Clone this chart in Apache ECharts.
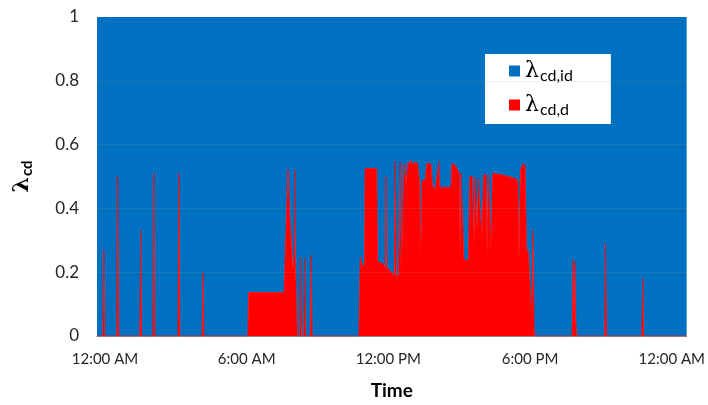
<!DOCTYPE html>
<html>
<head>
<meta charset="utf-8">
<script src="https://cdn.jsdelivr.net/npm/echarts@6/dist/echarts.min.js"></script>
<style>
  html, body { margin: 0; padding: 0; background: #fff; }
  #chart { width: 708px; height: 405px; }
</style>
</head>
<body>
<div id="chart"></div>
<script>
// time of day in hours, and λcd,d
// (λcd,id = 1 - λcd,d, so its area is the part above the red line)
var timeHours = [
  -0.338, -0.09, -0.05, -0.01, 0.50, 0.54, 0.58, 1.47, 1.51, 1.55,
  2.03, 2.07, 2.11, 3.09, 3.13, 3.17, 4.11, 4.15, 4.19,
  6.05, 6.08, 7.58, 7.75, 7.82, 7.96, 8.01, 8.03, 8.06, 8.14,
  8.24, 8.27, 8.31, 8.41, 8.45, 8.49, 8.69, 8.73, 8.77,
  10.75, 10.81, 10.89, 10.99, 11.01, 11.50, 11.55, 11.76, 11.87, 11.90, 11.93,
  12.04, 12.16, 12.25, 12.29, 12.34, 12.44, 12.50, 12.55, 12.66, 12.74, 12.83,
  12.92, 12.97, 13.06, 13.14, 13.24, 13.31, 13.37, 13.42, 13.56, 13.62,
  13.80, 13.87, 13.99, 14.13, 14.18, 14.65, 14.69, 14.83, 14.93, 15.00,
  15.04, 15.08, 15.14, 15.20, 15.39, 15.45, 15.56, 15.62, 15.68, 15.74,
  15.77, 15.80, 15.87, 15.96, 16.03, 16.13, 16.18, 16.22, 16.27, 16.34,
  16.41, 16.48, 16.83, 17.39, 17.48, 17.53, 17.59, 17.70, 17.79, 17.85,
  17.93, 17.99, 18.07, 18.13, 18.17, 18.20,
  19.78, 19.82, 19.86, 19.90, 19.93, 19.97, 21.16, 21.20, 21.24,
  22.73, 22.77, 22.81, 24.63
];
var lambdaCdD = [
  0, 0, 0.27, 0, 0, 0.50, 0, 0, 0.33, 0,
  0, 0.51, 0, 0, 0.51, 0, 0, 0.20, 0,
  0, 0.136, 0.136, 0.523, 0.38, 0.21, 0.25, 0.52, 0.25, 0,
  0, 0.246, 0, 0, 0.243, 0, 0, 0.253, 0,
  0, 0.248, 0.222, 0.222, 0.525, 0.525, 0.233, 0.227, 0.215, 0.50, 0.215,
  0.207, 0.197, 0.19, 0.546, 0.19, 0.188, 0.545, 0.188, 0.54, 0.477, 0.545,
  0.54, 0.55, 0.535, 0.546, 0.54, 0.49, 0.243, 0.485, 0.49, 0.54,
  0.54, 0.47, 0.46, 0.546, 0.466, 0.466, 0.54, 0.535, 0.52, 0.51,
  0.24, 0.51, 0.505, 0.238, 0.238, 0.50, 0.50, 0.274, 0.494, 0.494,
  0.305, 0.494, 0.494, 0.316, 0.505, 0.505, 0.25, 0.505, 0.51, 0.274,
  0.51, 0.51, 0.505, 0.494, 0.485, 0.233, 0.52, 0.539, 0.535, 0.274,
  0.264, 0.17, 0.066, 0.33, 0.03, 0,
  0, 0.24, 0.05, 0.23, 0.05, 0, 0, 0.29, 0,
  0, 0.18, 0, 0
];
var tickHours = [0, 6, 12, 18, 24];
var tickLabels = ['12:00 AM', '6:00 AM', '12:00 PM', '6:00 PM', '12:00 AM'];
var gridValues = [0.2, 0.4, 0.6, 0.8];

var redData = timeHours.map(function (t, i) { return [t, lambdaCdD[i]]; });

var chart = echarts.init(document.getElementById('chart'));
var legendRich = {
  l: { fontFamily: 'DejaVu Serif', fontSize: 22, color: '#000' },
  s: { fontFamily: 'Lato', fontSize: 16, color: '#000', padding: [10, 0, 0, 1] }
};
chart.setOption({
  animation: false,
  textStyle: { fontFamily: 'Lato' },
  grid: { left: 97, right: 20, top: 17, bottom: 67 },
  legend: {
    orient: 'vertical',
    left: 485,
    top: 54,
    width: 127,
    backgroundColor: '#fff',
    padding: [6, 38, 6, 24],
    itemGap: 10,
    itemWidth: 11,
    itemHeight: 11,
    icon: 'rect',
    data: ['λcd,id', 'λcd,d'],
    formatter: function (name) {
      return name === 'λcd,id' ? '{l|λ}{s|cd,id}' : '{l|λ}{s|cd,d}';
    },
    textStyle: { rich: legendRich }
  },
  xAxis: {
    type: 'value',
    min: -0.338,
    max: 24.63,
    name: 'Time',
    nameLocation: 'middle',
    nameGap: 45,
    nameTextStyle: { fontFamily: 'Lato', fontSize: 19, fontWeight: 'bold', color: '#000' },
    axisLine: { show: true, lineStyle: { color: '#868686', width: 1 } },
    axisTick: { show: false },
    splitLine: { show: false },
    axisLabel: {
      customValues: tickHours,
      margin: 16,
      fontSize: 15,
      color: '#262626',
      formatter: function (v) {
        var i = tickHours.indexOf(Math.round(v));
        return i >= 0 ? tickLabels[i] : '';
      }
    }
  },
  yAxis: {
    type: 'value',
    min: 0,
    max: 1,
    interval: 0.2,
    name: '{l|λ}{s|cd}',
    nameLocation: 'middle',
    nameRotate: 90,
    nameGap: 62,
    nameTextStyle: {
      rich: {
        l: { fontFamily: 'DejaVu Serif', fontSize: 22, fontWeight: 'bold', color: '#000' },
        s: { fontFamily: 'Lato', fontSize: 15, fontWeight: 'bold', color: '#000', padding: [10, 0, 0, 1] }
      }
    },
    axisLine: { show: true, lineStyle: { color: '#868686', width: 1 } },
    axisTick: { show: false },
    splitLine: { show: false },
    axisLabel: {
      margin: 18,
      fontSize: 17,
      color: '#262626',
      formatter: function (v) { return String(Math.round(v * 10) / 10); }
    }
  },
  series: [
    {
      // λcd,id: the area between λcd,d and 1
      name: 'λcd,id',
      type: 'line',
      data: redData,
      z: 2,
      showSymbol: false,
      symbol: 'none',
      itemStyle: { color: '#0070C0' },
      lineStyle: { width: 0 },
      areaStyle: { color: '#0070C0', opacity: 1, origin: 'end' },
      markLine: {
        silent: true,
        symbol: 'none',
        z: 5,
        label: { show: false },
        lineStyle: { color: 'rgba(150,150,150,0.16)', width: 1, type: 'solid' },
        data: gridValues.map(function (v) { return { yAxis: v }; })
      }
    },
    {
      name: 'λcd,d',
      type: 'line',
      data: redData,
      z: 3,
      showSymbol: false,
      symbol: 'none',
      itemStyle: { color: '#FF0000' },
      lineStyle: { width: 0.7, color: '#FF0000' },
      areaStyle: { color: '#FF0000', opacity: 1 }
    }
  ]
});
</script>
</body>
</html>
